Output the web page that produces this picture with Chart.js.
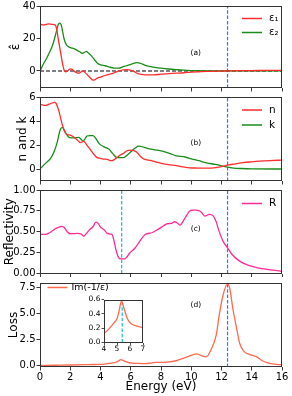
<!DOCTYPE html>
<html><head><meta charset="utf-8">
<script src="https://cdn.jsdelivr.net/npm/chart.js@4.4.1/dist/chart.umd.min.js"></script>
<style>
html,body{margin:0;padding:0;background:#fff;}
#wrap{position:relative;width:292px;height:396px;overflow:hidden;background:#fff;}
#wrap canvas{position:absolute;left:0;top:0;}
</style></head>
<body>
<div id="wrap">
<canvas id="ca" width="292" height="396"></canvas>
<canvas id="cb" width="292" height="396"></canvas>
<canvas id="cc" width="292" height="396"></canvas>
<canvas id="cd" width="292" height="396"></canvas>
<canvas id="ci" width="292" height="396"></canvas>
</div>
<script>
// ---------------- DATA ----------------
const energyTicks = [0, 2, 4, 6, 8, 10, 12, 14, 16];
const epsTicks = [0, 20, 40];
const nkTicks = [0, 2, 4, 6];
const reflTicks = [0, 0.25, 0.5, 0.75, 1.0];
const lossTicks = [0, 2.5, 5, 7.5];
const insetXTicks = [4, 5, 6, 7];
const insetYTicks = [0, 0.2, 0.4, 0.6];
const plasmaE = 12.4;   // blue dashed line
const dipE = 5.4;       // cyan dashed line

const eps1 = [[0,28.9],[0.2,28.3],[0.4,28.6],[0.6,29],[0.8,28.7],[1.0,28.4],[1.1,26],[1.2,20],[1.35,12],[1.5,4],[1.6,0.3],[1.7,-0.5],[1.85,0.3],[2.0,1.3],[2.15,0.8],[2.3,-0.4],[2.45,-1.2],[2.6,-1.4],[2.75,-0.2],[2.85,0.1],[3.0,-1.2],[3.15,-2.6],[3.35,-4.5],[3.5,-5.7],[3.6,-5.5],[3.8,-4.4],[4.0,-3.8],[4.3,-2.8],[4.6,-2.0],[4.9,-1.2],[5.2,0.0],[5.5,0.7],[5.8,0.8],[6.0,0.4],[6.2,-0.3],[6.4,-1.4],[6.6,-2.0],[7.0,-2.4],[7.5,-2.4],[8.0,-2.0],[8.5,-1.7],[9.0,-1.4],[9.5,-1.1],[10.0,-0.7],[10.5,-0.5],[11.0,-0.3],[11.5,-0.2],[12.0,-0.1],[12.4,0.0],[13,0.15],[14,0.25],[15,0.35],[16,0.4]];
const eps2 = [[0,0],[0.25,4.7],[0.45,8],[0.6,10.9],[0.8,15],[0.95,19.5],[1.1,25],[1.2,28.5],[1.3,29.5],[1.4,28.5],[1.5,24],[1.6,19.5],[1.75,16],[1.9,14.8],[2.15,14],[2.4,13],[2.6,12],[2.8,10.9],[2.95,11.5],[3.05,12],[3.2,11],[3.4,9.3],[3.6,7],[3.8,4.8],[4.0,3.8],[4.3,3.2],[4.6,2.4],[4.9,1.8],[5.2,1.7],[5.5,2.6],[5.8,3.5],[6.1,4.4],[6.4,5.1],[6.6,4.8],[6.9,3.7],[7.2,2.8],[7.6,2.2],[8.0,1.7],[8.5,1.2],[9.0,0.8],[9.5,0.45],[10,0.25],[10.5,0.15],[11,0.1],[12,0.05],[13,0.02],[16,0.0]];
const nIdx = [[0,5.38],[0.2,5.32],[0.4,5.3],[0.6,5.4],[0.8,5.5],[0.95,5.55],[1.05,5.5],[1.15,5.2],[1.26,4.78],[1.37,4.2],[1.48,3.67],[1.6,3.2],[1.7,2.97],[1.85,2.85],[2.0,2.83],[2.2,2.7],[2.35,2.55],[2.5,2.38],[2.68,2.19],[2.85,2.3],[2.95,2.25],[3.15,1.9],[3.35,1.58],[3.55,1.25],[3.75,0.97],[3.95,0.9],[4.2,0.83],[4.45,0.8],[4.6,0.72],[4.75,0.7],[4.9,0.78],[5.05,0.92],[5.3,1.16],[5.55,1.33],[5.75,1.52],[5.95,1.58],[6.2,1.53],[6.4,1.4],[6.6,1.1],[6.8,0.88],[7.0,0.78],[7.3,0.72],[7.7,0.58],[8.1,0.45],[8.5,0.36],[9.0,0.28],[9.5,0.17],[9.9,0.1],[10.4,0.08],[10.8,0.07],[11.3,0.08],[11.7,0.13],[12.0,0.2],[12.4,0.32],[12.8,0.41],[13.4,0.53],[14.0,0.6],[14.5,0.65],[15.2,0.7],[16,0.74]];
const kIdx = [[0,0],[0.36,0.47],[0.7,0.88],[0.93,1.44],[1.15,2.28],[1.33,3.25],[1.48,3.47],[1.6,3.25],[1.75,2.9],[1.9,2.65],[2.05,2.6],[2.25,2.6],[2.55,2.64],[2.7,2.5],[2.85,2.33],[2.97,2.5],[3.1,2.75],[3.3,2.78],[3.5,2.78],[3.65,2.62],[3.9,2.14],[4.2,1.86],[4.55,1.66],[4.8,1.3],[5.1,0.94],[5.5,0.94],[5.85,1.25],[6.1,1.55],[6.3,1.75],[6.5,1.9],[6.65,1.88],[7.1,1.72],[7.7,1.58],[8.2,1.44],[8.6,1.28],[9.0,1.1],[9.6,1.0],[10.0,0.85],[10.5,0.69],[11.0,0.52],[11.6,0.38],[12.0,0.27],[12.4,0.15],[12.8,0.08],[13.3,0.04],[14,0.01],[16,0.0]];
const refl = [[0,0.468],[0.36,0.468],[0.6,0.485],[0.8,0.508],[1.05,0.54],[1.26,0.556],[1.45,0.565],[1.6,0.55],[1.8,0.5],[2.0,0.476],[2.2,0.478],[2.48,0.48],[2.7,0.475],[2.9,0.448],[3.05,0.475],[3.25,0.52],[3.5,0.56],[3.7,0.616],[3.85,0.6],[3.95,0.568],[4.25,0.52],[4.5,0.476],[4.75,0.468],[4.9,0.388],[5.0,0.3],[5.15,0.208],[5.3,0.176],[5.6,0.176],[5.95,0.248],[6.3,0.308],[6.6,0.388],[6.95,0.468],[7.4,0.488],[7.8,0.528],[8.2,0.575],[8.4,0.596],[8.7,0.6],[8.9,0.62],[9.1,0.6],[9.25,0.58],[9.6,0.668],[9.9,0.748],[10.1,0.758],[10.35,0.76],[10.5,0.752],[10.65,0.736],[10.9,0.688],[11.2,0.708],[11.45,0.69],[11.65,0.62],[11.8,0.528],[12.1,0.388],[12.4,0.308],[12.7,0.228],[13.2,0.148],[13.8,0.096],[14.5,0.064],[15.4,0.04],[16,0.028]];
const loss = [[0,0.03],[1,0.05],[2,0.07],[3,0.1],[3.5,0.12],[4,0.13],[4.5,0.215],[4.8,0.28],[5.0,0.33],[5.15,0.43],[5.35,0.58],[5.55,0.47],[5.8,0.33],[6.1,0.26],[6.5,0.23],[7.0,0.21],[7.3,0.26],[7.6,0.32],[8.0,0.33],[8.4,0.35],[9.0,0.48],[9.6,0.79],[10.1,1.05],[10.35,1.15],[10.65,0.98],[11.0,0.86],[11.3,1.52],[11.65,2.95],[11.85,4.86],[12.1,6.77],[12.38,7.85],[12.55,7.4],[12.75,5.5],[13.0,3.6],[13.2,2.16],[13.5,1.36],[13.85,1.1],[14.3,0.88],[14.7,0.48],[15.1,0.25],[15.5,0.15],[16,0.1]];

// ---------------- STYLE ----------------
const FONT = 'DejaVu Sans';
Chart.defaults.font.family = FONT;
Chart.defaults.color = '#000';
Chart.defaults.animation = false;

const RED = '#ff2d2d', GREEN = '#1a8c1a', PINK = '#ff2a9a', TOMATO = '#ff6a4f';
const BLUE = '#3d6cff', CYAN = '#10c0c8';

const pts = arr => arr.map(p => ({x: p[0], y: p[1]}));
function curve(arr, color, label) {
  return {label, data: pts(arr), borderColor: color, borderWidth: 1.3, pointRadius: 0,
          fill: false, cubicInterpolationMode: 'monotone'};
}
function vline(x, y0, y1, color) {
  return {data: [{x, y: y0}, {x, y: y1}], borderColor: color, borderWidth: 1.2,
          borderDash: [3.5, 1.8], pointRadius: 0, tension: 0, noLegend: true};
}
function hline(y, x0, x1, color) {
  return {data: [{x: x0, y}, {x: x1, y}], borderColor: color, borderWidth: 1.1,
          borderDash: [4, 2], pointRadius: 0, tension: 0, noLegend: true};
}

function decor(P) {
  return {
    id: 'decor',
    afterDatasetsDraw(chart) {
      const {ctx, chartArea: a} = chart;
      ctx.save();
      ctx.strokeStyle = '#333'; ctx.lineWidth = 1;
      ctx.strokeRect(Math.round(a.left) + 0.5, Math.round(a.top) + 0.5,
                     Math.round(a.right) - Math.round(a.left) - 1, Math.round(a.bottom) - Math.round(a.top) - 1);
      if (P.legend) {
        const L = P.legend;
        const items = chart.data.datasets.filter(d => !d.noLegend);
        items.forEach((d, i) => {
          const y = L.y + i * L.dy;
          ctx.strokeStyle = d.borderColor; ctx.lineWidth = 1.5; ctx.setLineDash([]);
          ctx.beginPath(); ctx.moveTo(L.x, y); ctx.lineTo(L.x + 20, y); ctx.stroke();
          ctx.fillStyle = '#000'; ctx.font = L.size + 'px ' + FONT;
          ctx.textBaseline = 'middle'; ctx.textAlign = 'left';
          ctx.fillText(d.label, L.x + L.gap, y);
        });
      }
      if (P.tag) {
        const xs = chart.scales.x, ys = chart.scales.y;
        ctx.fillStyle = '#000'; ctx.font = '7.5px ' + FONT;
        ctx.textAlign = 'center'; ctx.textBaseline = 'middle';
        ctx.fillText(P.tag.text, xs.getPixelForValue(P.tag.x), ys.getPixelForValue(P.tag.y));
      }
      ctx.restore();
    }
  };
}

function panel(id, P) {
  const xh = P.showX ? 29 : 5;
  return new Chart(document.getElementById(id), {
    type: 'line',
    data: {datasets: P.datasets},
    options: {
      responsive: false, animation: false, events: [],
      layout: {padding: {left: 0, right: 10, top: P.top, bottom: 396 - P.bottom - xh}},
      plugins: {legend: {display: false}, tooltip: {enabled: false}},
      scales: {
        x: {
          type: 'linear', min: 0, max: 16,
          afterBuildTicks: s => { s.ticks = energyTicks.map(v => ({value: v})); },
          grid: {drawOnChartArea: false, drawTicks: true, tickLength: 3.5, color: '#222', lineWidth: 0.9},
          border: {display: false},
          ticks: {display: P.showX, font: {size: 10}, padding: 1, maxRotation: 0, autoSkip: false,
                  callback: v => String(v)},
          title: {display: P.showX, text: 'Energy (eV)', font: {size: 12}, padding: {top: 0, bottom: 2}},
          afterFit: s => { s.height = xh; s.paddingLeft = 0; s.paddingRight = 0; }
        },
        y: {
          type: 'linear', min: P.ymin, max: P.ymax,
          afterBuildTicks: s => { s.ticks = P.yticks.map(v => ({value: v})); },
          grid: {drawOnChartArea: false, drawTicks: true, tickLength: 3.5, color: '#222', lineWidth: 0.9},
          border: {display: false},
          ticks: {font: {size: 10}, padding: 1, autoSkip: false, callback: P.fmt},
          title: {display: true, text: P.ytitle, font: {size: 12}, padding: {top: P.tpad, bottom: 0}},
          afterFit: s => { s.width = 40; s.paddingTop = 0; s.paddingBottom = 0; }
        }
      }
    },
    plugins: [decor(P)]
  });
}

panel('ca', {
  top: 6, bottom: 88, ymin: -10.5, ymax: 40, yticks: epsTicks, fmt: v => String(v),
  ytitle: 'ε\u0302', tpad: 9, showX: false,
  datasets: [curve(eps1, RED, 'ε₁'), curve(eps2, GREEN, 'ε₂'),
             hline(0, 0, 16, '#000'), vline(plasmaE, -10.5, 40, BLUE)],
  legend: {x: 242, y: 18.5, dy: 14, gap: 27, size: 10},
  tag: {text: '(a)', x: 10.3, y: 11.3}
});
panel('cb', {
  top: 97, bottom: 181, ymin: -1, ymax: 6, yticks: nkTicks, fmt: v => String(v),
  ytitle: 'n and k', tpad: 16, showX: false,
  datasets: [curve(nIdx, RED, 'n'), curve(kIdx, GREEN, 'k'), vline(plasmaE, -1, 6, BLUE)],
  legend: {x: 242, y: 110, dy: 15, gap: 27, size: 10.5},
  tag: {text: '(b)', x: 10.3, y: 2.2}
});
panel('cc', {
  top: 190, bottom: 273.5, ymin: 0, ymax: 1, yticks: reflTicks, fmt: v => v.toFixed(2),
  ytitle: 'Reflectivity', tpad: 3, showX: false,
  datasets: [curve(refl, PINK, 'R'), vline(dipE, 0, 1, CYAN), vline(plasmaE, 0, 1, BLUE)],
  legend: {x: 242, y: 203.5, dy: 15, gap: 27, size: 10.5},
  tag: {text: '(c)', x: 10.3, y: 0.53}
});
panel('cd', {
  top: 283, bottom: 367, ymin: -0.12, ymax: 7.95, yticks: lossTicks, fmt: v => v.toFixed(1),
  ytitle: 'Loss', tpad: 7, showX: true,
  datasets: [curve(loss, TOMATO, 'Im(-1/ε)'), vline(plasmaE, -0.12, 7.95, BLUE)],
  legend: {x: 47.5, y: 287.5, dy: 15, gap: 24, size: 9.5},
  tag: {text: '(d)', x: 10.3, y: 5.8}
});

new Chart(document.getElementById('ci'), {
  type: 'line',
  data: {datasets: [curve(loss, TOMATO, ''), vline(dipE, 0, 0.6, CYAN)]},
  options: {
    responsive: false, animation: false, events: [],
    layout: {padding: {left: 84, right: 149, top: 299.5, bottom: 396 - 342.5 - 10}},
    plugins: {legend: {display: false}, tooltip: {enabled: false}},
    scales: {
      x: {
        type: 'linear', min: 4, max: 7,
        afterBuildTicks: s => { s.ticks = insetXTicks.map(v => ({value: v})); },
        grid: {drawOnChartArea: false, drawTicks: true, tickLength: 2.5, color: '#222', lineWidth: 0.8},
        border: {display: false},
        ticks: {font: {size: 7.5}, padding: 0, maxRotation: 0, autoSkip: false, callback: v => String(v)},
        afterFit: s => { s.height = 10; s.paddingLeft = 0; s.paddingRight = 0; }
      },
      y: {
        type: 'linear', min: 0, max: 0.6,
        afterBuildTicks: s => { s.ticks = insetYTicks.map(v => ({value: v})); },
        grid: {drawOnChartArea: false, drawTicks: true, tickLength: 2.5, color: '#222', lineWidth: 0.8},
        border: {display: false},
        ticks: {font: {size: 7.5}, padding: 1, autoSkip: false, callback: v => v.toFixed(1)},
        afterFit: s => { s.width = 20; s.paddingTop = 0; s.paddingBottom = 0; }
      }
    }
  },
  plugins: [{
    id: 'bg', beforeDraw(chart) {
      const {ctx, chartArea: a} = chart;
      ctx.save(); ctx.fillStyle = '#fff'; ctx.fillRect(a.left, a.top, a.width, a.height); ctx.restore();
    }
  }, decor({})]
});
</script>
</body></html>
